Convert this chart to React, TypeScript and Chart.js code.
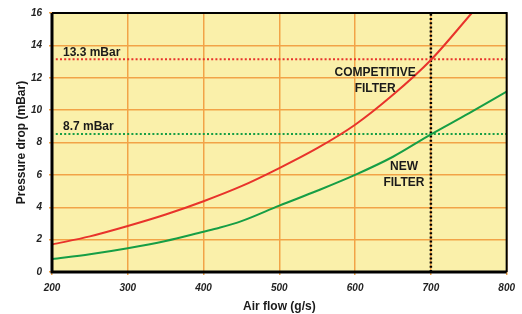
import React, { useEffect, useRef } from 'react';
import { Chart, registerables } from 'chart.js';

Chart.register(...registerables);

// ---- data ----
const competitiveFlow = [200, 250, 300, 350, 400, 450, 500, 550, 600, 650, 700, 754];
const competitiveDrop = [1.7, 2.2, 2.84, 3.55, 4.37, 5.3, 6.42, 7.65, 9.1, 10.95, 13.1, 16];
const newFlow = [200, 250, 300, 350, 400, 420, 450, 500, 550, 600, 650, 700, 750, 800];
const newDrop = [0.8, 1.1, 1.47, 1.92, 2.49, 2.72, 3.14, 4.1, 5.02, 6.0, 7.12, 8.5, 9.8, 11.15];
const refFlowRange = [205, 800];
const competitiveRef = 13.15;
const newRef = 8.52;
const targetFlow = 700;
const dropRange = [0, 16];
const xTicks = [200, 300, 400, 500, 600, 700, 800];
const yTicks = [0, 2, 4, 6, 8, 10, 12, 14, 16];
const competitiveRefLabel = '13.3 mBar';
const newRefLabel = '8.7 mBar';
const competitiveLabel = ['COMPETITIVE', 'FILTER'];
const newLabel = ['NEW', 'FILTER'];

const FONT = "'Liberation Sans', Arial, Helvetica, sans-serif";
const RED = '#E8332B';
const GREEN = '#169E45';

const bgPlugin = {
  id: 'bgPlugin',
  beforeDraw(chart: any) {
    const { ctx, chartArea } = chart;
    const { left, top, right, bottom } = chartArea;
    ctx.save();
    ctx.fillStyle = '#FAF0AA';
    ctx.fillRect(left, top, right - left, bottom - top);
    ctx.restore();
  },
};

const framePlugin = {
  id: 'framePlugin',
  afterDraw(chart: any) {
    const { ctx, chartArea } = chart;
    const { left, top, right, bottom } = chartArea;
    ctx.save();
    ctx.strokeStyle = '#000';
    ctx.lineWidth = 2;
    ctx.beginPath();
    ctx.moveTo(left, top);
    ctx.lineTo(right, top);
    ctx.lineTo(right, bottom);
    ctx.stroke();
    ctx.lineWidth = 3;
    ctx.beginPath();
    ctx.moveTo(left, top);
    ctx.lineTo(left, bottom);
    ctx.lineTo(right, bottom);
    ctx.stroke();
    ctx.restore();
  },
};

const labelPlugin = {
  id: 'labelPlugin',
  afterDatasetsDraw(chart: any) {
    const { ctx, scales } = chart;
    const x = scales.x;
    const y = scales.y;
    ctx.save();
    ctx.fillStyle = '#1a1a1a';
    ctx.font = `bold 12px ${FONT}`;
    ctx.textBaseline = 'middle';
    ctx.textAlign = 'left';
    ctx.fillText(competitiveRefLabel, x.getPixelForValue(214.5), y.getPixelForValue(13.55));
    ctx.fillText(newRefLabel, x.getPixelForValue(214.5), y.getPixelForValue(9.0));
    ctx.textAlign = 'center';
    competitiveLabel.forEach((t, i) => {
      ctx.fillText(t, x.getPixelForValue(626.5), y.getPixelForValue(12.3 - i * 0.95));
    });
    newLabel.forEach((t, i) => {
      ctx.fillText(t, x.getPixelForValue(664.5), y.getPixelForValue(6.5 - i * 0.98));
    });
    ctx.restore();
  },
};

export default function App() {
  const canvasRef = useRef<HTMLCanvasElement | null>(null);

  useEffect(() => {
    if (!canvasRef.current) return;
    const tickFont = { family: FONT, size: 10, style: 'italic' as const, weight: 'bold' as const };
    const chart = new Chart(canvasRef.current, {
      type: 'line',
      data: {
        datasets: [
          {
            label: 'Competitive filter',
            data: competitiveFlow.map((f, i) => ({ x: f, y: competitiveDrop[i] })),
            borderColor: RED,
            borderWidth: 2,
            pointRadius: 0,
            cubicInterpolationMode: 'monotone',
            fill: false,
          },
          {
            label: 'New filter',
            data: newFlow.map((f, i) => ({ x: f, y: newDrop[i] })),
            borderColor: GREEN,
            borderWidth: 2,
            pointRadius: 0,
            cubicInterpolationMode: 'monotone',
            fill: false,
          },
          {
            label: 'Competitive ref',
            data: refFlowRange.map((f) => ({ x: f, y: competitiveRef })),
            borderColor: RED,
            borderWidth: 2,
            borderDash: [2, 2.2],
            pointRadius: 0,
            fill: false,
          },
          {
            label: 'New ref',
            data: refFlowRange.map((f) => ({ x: f, y: newRef })),
            borderColor: GREEN,
            borderWidth: 2,
            borderDash: [2, 2.2],
            pointRadius: 0,
            fill: false,
          },
          {
            label: 'Target flow',
            data: dropRange.map((d) => ({ x: targetFlow, y: d })),
            borderColor: '#000',
            borderWidth: 2.5,
            borderDash: [2, 2.2],
            pointRadius: 0,
            fill: false,
          },
        ],
      },
      options: {
        animation: false,
        responsive: false,
        maintainAspectRatio: false,
        layout: { padding: { top: 11, right: 15, left: 14, bottom: 0 } },
        plugins: {
          legend: { display: false },
          tooltip: { enabled: false },
          title: { display: false },
        },
        scales: {
          x: {
            type: 'linear',
            min: 200,
            max: 800,
            afterFit(scale: any) {
              scale.height = 42;
            },
            afterBuildTicks(scale: any) {
              scale.ticks = xTicks.map((v) => ({ value: v }));
            },
            grid: { color: '#F2A347', lineWidth: 1.5, tickLength: 3 },
            border: { display: false },
            ticks: { font: tickFont, color: '#222', padding: 7, maxRotation: 0 },
            title: {
              display: true,
              text: 'Air flow (g/s)',
              font: { family: FONT, size: 12, weight: 'bold' },
              color: '#1a1a1a',
              padding: 0,
            },
          },
          y: {
            type: 'linear',
            min: 0,
            max: 16,
            afterFit(scale: any) {
              scale.width = 38;
            },
            afterBuildTicks(scale: any) {
              scale.ticks = yTicks.map((v) => ({ value: v }));
            },
            grid: { color: '#F2A347', lineWidth: 1.5, tickLength: 3 },
            border: { display: false },
            ticks: { font: tickFont, color: '#222', padding: 7 },
            title: {
              display: true,
              text: 'Pressure drop (mBar)',
              font: { family: FONT, size: 12, weight: 'bold' },
              color: '#1a1a1a',
              padding: 0,
            },
          },
        },
      },
      plugins: [bgPlugin, labelPlugin, framePlugin],
    });
    return () => chart.destroy();
  }, []);

  return (
    <div style={{ position: 'fixed', left: 0, top: 0, width: 522, height: 314, background: '#fff' }}>
      <canvas ref={canvasRef} width={522} height={314} style={{ display: 'block' }} />
    </div>
  );
}
